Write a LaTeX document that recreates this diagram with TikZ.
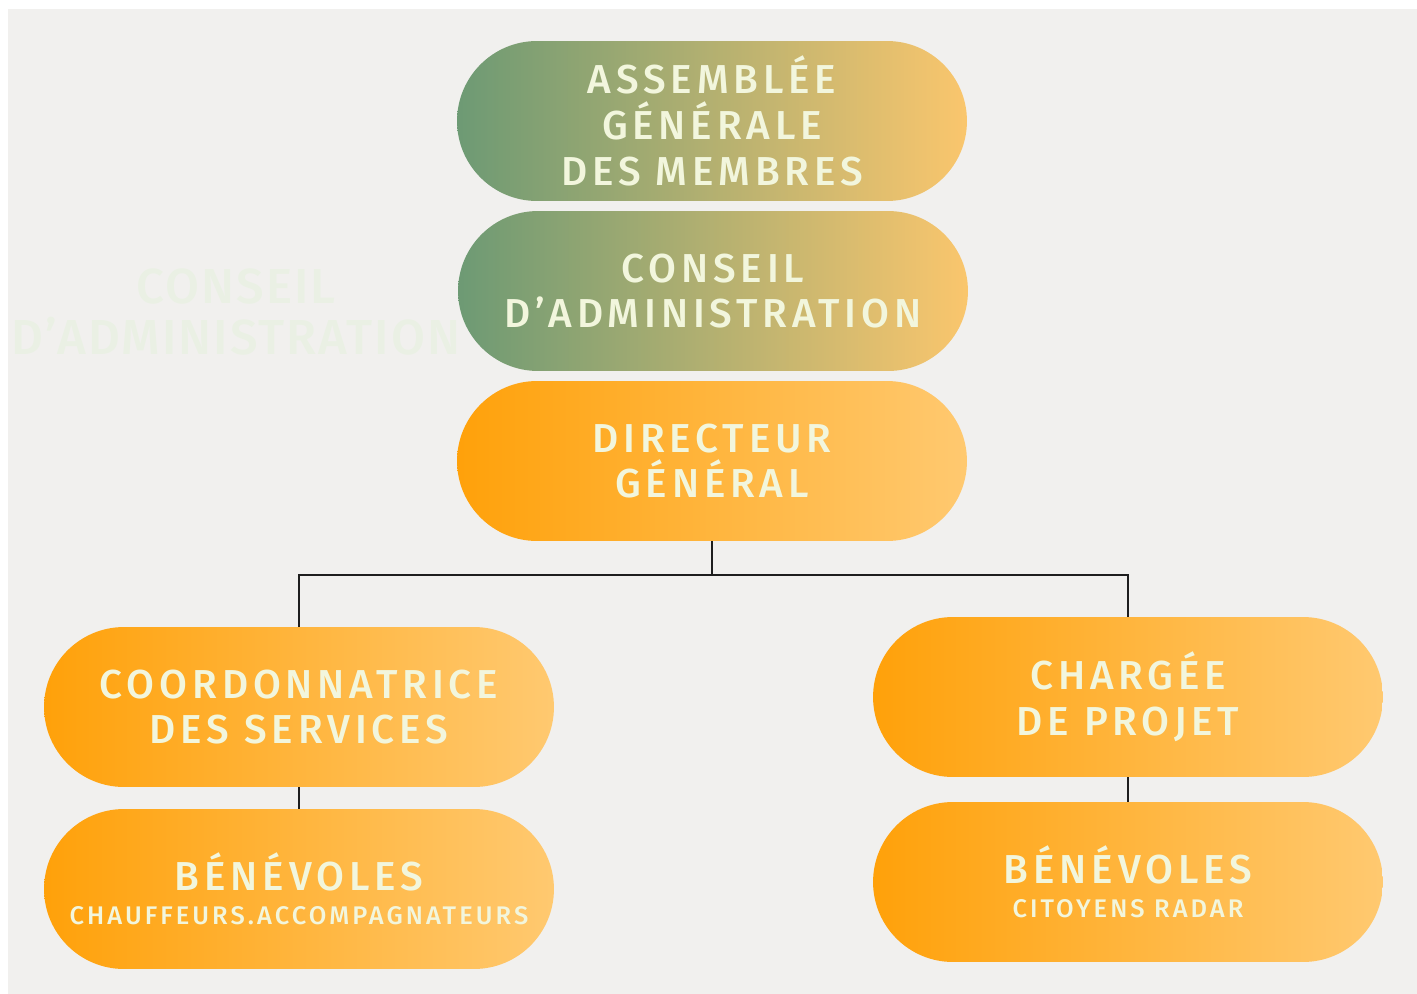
\documentclass[tikz,border=0pt]{standalone}
\usepackage{fontspec}
\setmainfont{Fira Sans}[UprightFont={* Medium}, LetterSpace=12]
\usetikzlibrary{shapes.misc}
\usetikzlibrary{positioning}
\definecolor{bgGray}{HTML}{F1F0EE}
\definecolor{labelCream}{HTML}{F2F6DD}
\definecolor{ghostGreen}{HTML}{EAF0E4}
\definecolor{sageGreen}{HTML}{6D9A74}
\definecolor{softAmber}{HTML}{FAC66D}
\definecolor{deepOrange}{HTML}{FFA10A}
\definecolor{paleOrange}{HTML}{FFC970}
\definecolor{lineBlack}{HTML}{1E1E1E}
\tikzset{
	pill/.style={rounded rectangle, minimum width=10.2cm, minimum height=3.2cm,
		inner sep=0pt, align=center, text=labelCream,
		font=\fontsize{23}{26}\selectfont},
	greenpill/.style={pill, left color=sageGreen, right color=softAmber},
	orangepill/.style={pill, left color=deepOrange, right color=paleOrange},
	ghost/.style={align=center, text=ghostGreen,
		font=\fontsize{28}{28.5}\selectfont\addfontfeatures{LetterSpace=4}},
	branch/.style={draw=lineBlack, line width=1pt},
}
\newcommand{\smallline}[1]{{\fontsize{14.5}{15}\selectfont #1}}

\begin{document}
\begin{tikzpicture}[x=0.02cm, y=-0.02cm]
	\fill[white] (0,0) rectangle (1417,994);
	\fill[bgGray] (8,9) rectangle (1417,994);
	\useasboundingbox (0,0) rectangle (1417,994);
	%
	\node[ghost] (ghostca) at (236,312) {CONSEIL\\D’ADMINISTRATION};
	%
	\node[greenpill] (agm) at (712,121) {ASSEMBLÉE\\GÉNÉRALE\\DES MEMBRES};
	\node[greenpill] (ca) at (713,291) {CONSEIL\\D’ADMINISTRATION};
	\node[orangepill] (dg) at (712,461) {DIRECTEUR\\GÉNÉRAL};
	%
	\node[orangepill] (coord) at (299,707) {COORDONNATRICE\\DES SERVICES};
	\node[orangepill] (benevA) at (299,889) {BÉNÉVOLES\\[-6.5pt]\smallline{CHAUFFEURS.ACCOMPAGNATEURS}};
	%
	\node[orangepill] (charge) at (1128,697) {CHARGÉE\\DE PROJET};
	\node[orangepill] (benevB) at (1128,882) {BÉNÉVOLES\\[-6.5pt]\smallline{CITOYENS RADAR}};
	%
	\draw[branch] (dg.south) -- ++(0,34) -| (coord.north);
	\draw[branch] (dg.south) -- ++(0,34) -| (charge.north);
	\draw[branch] (coord.south) -- (benevA.north);
	\draw[branch] (charge.south) -- (benevB.north);
\end{tikzpicture}
\end{document}
